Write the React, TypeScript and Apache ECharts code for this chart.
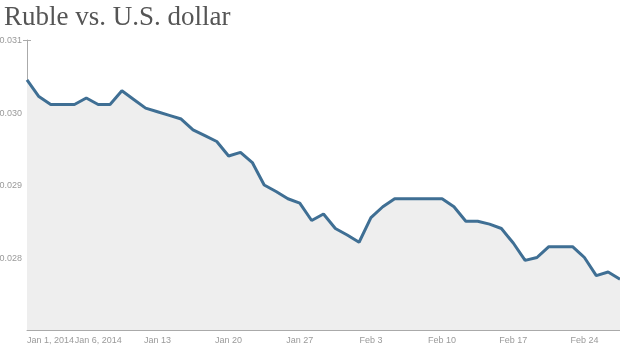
import React, { useEffect, useRef } from "react";
import * as echarts from "echarts";

const title = "Ruble vs. U.S. dollar";

const rates = [
  0.03045, 0.03022, 0.03011, 0.03011, 0.03011, 0.0302, 0.03011, 0.03011, 0.0303, 0.03018,
  0.03006, 0.03001, 0.02996, 0.02991, 0.02976, 0.02968, 0.0296, 0.0294, 0.02945, 0.02931,
  0.029, 0.02891, 0.02881, 0.02875, 0.02851, 0.0286, 0.0284, 0.02831, 0.02821, 0.02855,
  0.0287, 0.02881, 0.02881, 0.02881, 0.02881, 0.02881, 0.0287, 0.0285, 0.0285, 0.02846,
  0.0284, 0.0282, 0.02796, 0.028, 0.02815, 0.02815, 0.02815, 0.028, 0.02775, 0.0278,
  0.0277,
];

const xTickLabels = [
  "Jan 1, 2014",
  "Jan 6, 2014",
  "Jan 13",
  "Jan 20",
  "Jan 27",
  "Feb 3",
  "Feb 10",
  "Feb 17",
  "Feb 24",
];
const xTickIndex = [0, 6, 11, 17, 23, 29, 35, 41, 47];

const yMin = 0.027;
const yMax = 0.031;
const yStep = 0.001;

export default function App() {
  const ref = useRef<HTMLDivElement>(null);

  useEffect(() => {
    if (!ref.current) return;
    const chart = echarts.init(ref.current, null, { renderer: "svg" });
    const categories = rates.map((_, i) => String(i));
    const labelMap: Record<string, string> = {};
    xTickIndex.forEach((idx, k) => {
      labelMap[String(idx)] = xTickLabels[k];
    });
    const sans = "'Liberation Sans', Arial, sans-serif";

    chart.setOption({
      animation: false,
      title: {
        text: title,
        left: -1,
        top: -3,
        textStyle: {
          fontFamily: "'Liberation Serif', serif",
          fontSize: 27,
          fontWeight: "normal",
          color: "#555555",
        },
      },
      grid: {
        left: 27,
        right: 0,
        top: 40,
        bottom: 18,
        containLabel: false,
        outerBoundsMode: "none",
      },
      xAxis: {
        type: "category",
        data: categories,
        boundaryGap: false,
        axisLine: { show: true, lineStyle: { color: "#aaaaaa", width: 1 } },
        axisTick: { show: false },
        axisLabel: {
          interval: 0,
          alignMinLabel: "left",
          hideOverlap: false,
          formatter: (v: string) => labelMap[v] || "",
          fontFamily: sans,
          fontSize: 9,
          color: "#9a9a9a",
          margin: 5,
        },
        splitLine: { show: false },
      },
      yAxis: {
        type: "value",
        min: yMin,
        max: yMax,
        interval: yStep,
        axisLine: { show: true, lineStyle: { color: "#aaaaaa", width: 1 } },
        axisTick: { show: false },
        splitLine: { show: false },
        axisLabel: {
          formatter: (v: number) => (v < yMin + yStep / 2 ? "" : v.toFixed(3)),
          fontFamily: sans,
          fontSize: 9,
          color: "#9a9a9a",
          margin: 5,
        },
      },
      graphic: [
        {
          type: "line",
          shape: { x1: 23, y1: 40.5, x2: 31, y2: 40.5 },
          style: { stroke: "#aaaaaa", lineWidth: 1 },
        },
      ],
      series: [
        {
          type: "line",
          data: rates,
          symbol: "none",
          lineStyle: { color: "#3f6f94", width: 3 },
          areaStyle: { color: "#eeeeee", opacity: 1, origin: "start" },
        },
      ],
    });
    return () => chart.dispose();
  }, []);

  return (
    <div
      ref={ref}
      style={{ position: "fixed", left: 0, top: 0, width: 620, height: 348 }}
    />
  );
}
